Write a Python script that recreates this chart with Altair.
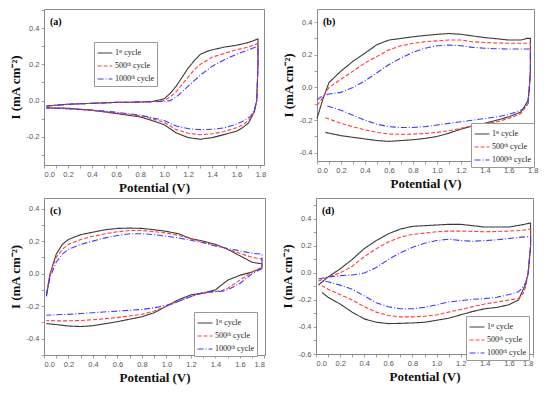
import altair as alt
import pandas as pd

SERIES = ["1ˢᵗ cycle", "500ᵗʰ cycle", "1000ᵗʰ cycle"]
COLORS = ["#3a3a3a", "#ff3b3b", "#3b3bff"]
DASHES = [[1, 0], [4, 2], [6, 2, 1, 2]]

# ---------------- panel (a) ----------------
A_UP_V = [0.02, 0.2, 0.4, 0.6, 0.8, 0.9, 1.0, 1.05, 1.1, 1.15, 1.2, 1.25, 1.3, 1.35, 1.4, 1.5, 1.6, 1.7, 1.78]
A1_UP = [-0.03, -0.02, -0.015, -0.01, -0.008, -0.005, 0.01, 0.04, 0.08, 0.13, 0.18, 0.22, 0.255, 0.27, 0.28, 0.295, 0.305, 0.32, 0.34]
A500_UP = [-0.03, -0.02, -0.015, -0.01, -0.008, -0.006, 0.0, 0.02, 0.05, 0.09, 0.13, 0.17, 0.2, 0.22, 0.24, 0.26, 0.28, 0.295, 0.315]
A1000_UP = [-0.03, -0.02, -0.015, -0.01, -0.008, -0.007, -0.004, 0.0, 0.02, 0.05, 0.08, 0.11, 0.14, 0.165, 0.19, 0.225, 0.255, 0.28, 0.3]
A_DN_V = [1.78, 1.77, 1.75, 1.72, 1.7, 1.65, 1.6, 1.5, 1.4, 1.3, 1.2, 1.1, 1.0, 0.9, 0.8, 0.6, 0.4, 0.2, 0.02]
A1_DN = [0.2, 0.0, -0.06, -0.1, -0.124, -0.15, -0.169, -0.187, -0.204, -0.213, -0.204, -0.178, -0.133, -0.11, -0.09, -0.071, -0.053, -0.042, -0.04]
A500_DN = [0.2, 0.0, -0.06, -0.095, -0.11, -0.135, -0.15, -0.17, -0.183, -0.188, -0.18, -0.16, -0.12, -0.1, -0.085, -0.068, -0.055, -0.045, -0.04]
A1000_DN = [0.2, 0.0, -0.05, -0.085, -0.095, -0.115, -0.13, -0.15, -0.158, -0.16, -0.155, -0.14, -0.11, -0.095, -0.08, -0.064, -0.052, -0.045, -0.04]

# ---------------- panel (b) ----------------
B_UP_V = [0.0, 0.05, 0.1, 0.2, 0.3, 0.4, 0.5, 0.6, 0.7, 0.8, 0.9, 1.0, 1.1, 1.2, 1.3, 1.4, 1.5, 1.6, 1.7, 1.75, 1.78]
B1_UP = [-0.19, -0.07, 0.03, 0.1, 0.16, 0.21, 0.262, 0.29, 0.3, 0.31, 0.318, 0.325, 0.33, 0.325, 0.315, 0.305, 0.298, 0.29, 0.29, 0.3, 0.3]
B500_UP = [-0.11, -0.06, 0.0, 0.05, 0.1, 0.15, 0.19, 0.23, 0.255, 0.27, 0.28, 0.285, 0.29, 0.29, 0.28, 0.275, 0.272, 0.27, 0.27, 0.27, 0.27]
B1000_UP = [-0.075, -0.05, -0.04, -0.03, 0.0, 0.04, 0.09, 0.14, 0.18, 0.215, 0.24, 0.255, 0.26, 0.255, 0.245, 0.24, 0.237, 0.235, 0.235, 0.235, 0.235]
B_DN_V = [1.78, 1.77, 1.76, 1.72, 1.7, 1.6, 1.5, 1.4, 1.3, 1.2, 1.1, 1.0, 0.9, 0.8, 0.7, 0.6, 0.5, 0.4, 0.3, 0.2, 0.07]
B1_DN = [0.1, -0.02, -0.08, -0.13, -0.15, -0.18, -0.2, -0.22, -0.235, -0.255, -0.28, -0.3, -0.312, -0.32, -0.325, -0.33, -0.325, -0.315, -0.305, -0.295, -0.275]
B500_DN = [0.1, -0.01, -0.1, -0.14, -0.16, -0.19, -0.21, -0.22, -0.235, -0.25, -0.265, -0.275, -0.282, -0.285, -0.287, -0.285, -0.275, -0.26, -0.24, -0.22, -0.185]
B1000_DN = [0.1, 0.0, -0.1, -0.13, -0.14, -0.165, -0.18, -0.19, -0.2, -0.21, -0.22, -0.23, -0.24, -0.245, -0.245, -0.24, -0.225, -0.2, -0.17, -0.14, -0.11]

# ---------------- panel (c) ----------------
C_UP_V = [0.02, 0.05, 0.1, 0.15, 0.2, 0.3, 0.4, 0.5, 0.6, 0.7, 0.8, 0.9, 1.0, 1.1, 1.2, 1.3, 1.4, 1.5, 1.6, 1.7, 1.78]
C1_UP = [-0.14, 0.0, 0.12, 0.18, 0.21, 0.24, 0.255, 0.27, 0.278, 0.28, 0.278, 0.27, 0.26, 0.245, 0.215, 0.2, 0.18, 0.15, 0.11, 0.07, 0.06]
C500_UP = [-0.12, 0.0, 0.1, 0.15, 0.18, 0.21, 0.23, 0.245, 0.258, 0.265, 0.265, 0.258, 0.25, 0.235, 0.215, 0.195, 0.175, 0.15, 0.125, 0.1, 0.09]
C1000_UP = [-0.13, -0.02, 0.07, 0.12, 0.15, 0.18, 0.2, 0.22, 0.235, 0.245, 0.245, 0.24, 0.23, 0.22, 0.205, 0.19, 0.17, 0.155, 0.14, 0.125, 0.12]
C_DN_V = [1.78, 1.7, 1.6, 1.5, 1.45, 1.4, 1.3, 1.2, 1.1, 1.0, 0.9, 0.8, 0.6, 0.4, 0.3, 0.2, 0.1, 0.02]
C1_DN = [0.035, 0.01, -0.01, -0.04, -0.07, -0.1, -0.12, -0.13, -0.16, -0.2, -0.24, -0.265, -0.295, -0.32, -0.325, -0.322, -0.313, -0.307]
C500_DN = [0.04, 0.01, -0.04, -0.09, -0.105, -0.11, -0.12, -0.14, -0.17, -0.2, -0.23, -0.25, -0.27, -0.283, -0.288, -0.29, -0.29, -0.288]
C1000_DN = [0.03, 0.0, -0.06, -0.1, -0.108, -0.11, -0.115, -0.14, -0.17, -0.195, -0.21, -0.22, -0.23, -0.24, -0.245, -0.25, -0.253, -0.256]

# ---------------- panel (d) ----------------
D_UP_V = [0.02, 0.1, 0.2, 0.3, 0.4, 0.5, 0.6, 0.7, 0.8, 0.9, 1.0, 1.1, 1.2, 1.3, 1.4, 1.5, 1.6, 1.7, 1.78]
D1_UP = [-0.09, -0.03, 0.03, 0.1, 0.18, 0.24, 0.29, 0.325, 0.345, 0.35, 0.355, 0.36, 0.36, 0.35, 0.34, 0.34, 0.34, 0.355, 0.37]
D500_UP = [-0.06, -0.03, 0.0, 0.05, 0.12, 0.18, 0.23, 0.265, 0.285, 0.295, 0.305, 0.31, 0.31, 0.308, 0.305, 0.307, 0.31, 0.315, 0.325]
D1000_UP = [-0.045, -0.03, -0.02, -0.015, 0.0, 0.04, 0.1, 0.15, 0.19, 0.22, 0.24, 0.25, 0.24, 0.235, 0.24, 0.245, 0.255, 0.265, 0.27]
D_DN_V = [1.78, 1.76, 1.74, 1.72, 1.68, 1.6, 1.5, 1.4, 1.3, 1.2, 1.1, 1.0, 0.9, 0.8, 0.7, 0.6, 0.5, 0.4, 0.3, 0.2, 0.1, 0.05]
D1_DN = [0.2, 0.0, -0.08, -0.12, -0.2, -0.235, -0.255, -0.265, -0.285, -0.31, -0.335, -0.35, -0.365, -0.37, -0.373, -0.375, -0.365, -0.34, -0.29, -0.23, -0.18, -0.145]
D500_DN = [0.2, 0.0, -0.1, -0.15, -0.19, -0.2, -0.215, -0.23, -0.25, -0.27, -0.29, -0.31, -0.32, -0.325, -0.325, -0.315, -0.29, -0.25, -0.2, -0.16, -0.12, -0.095]
D1000_DN = [0.2, 0.0, -0.07, -0.1, -0.14, -0.16, -0.18, -0.19, -0.195, -0.205, -0.215, -0.235, -0.255, -0.265, -0.265, -0.25, -0.22, -0.17, -0.12, -0.09, -0.065, -0.06]

SERIF = "Liberation Serif"
SANS = "Liberation Sans"
LABEL_EXPR = "round(datum.value*10) % 2 == 0 ? replace(format(datum.value, '.1f'), '\u2212', '-') : ''"


def panel_df(up_v, dn_v, ups, dns):
    rows = []
    for s, up, dn in zip(SERIES, ups, dns):
        k = 0
        for v, i in zip(up_v, up):
            rows.append({"series": s, "V": v, "I": i, "k": k})
            k += 1
        for v, i in zip(dn_v, dn):
            rows.append({"series": s, "V": v, "I": i, "k": k})
            k += 1
    return pd.DataFrame(rows)


def ticks(lo, hi):
    n0 = int(round(lo * 10))
    n1 = int(round(hi * 10))
    return [round(n * 0.1, 1) for n in range(n0, n1 + 1)]


def panel(df, label, xdom, ydom, ytk, lx, ly, w, h):
    leg = alt.Legend(
        orient="none", legendX=lx, legendY=ly, title=None,
        strokeColor="#9a9a9a", fillColor="white", padding=3, rowPadding=1,
        symbolType="stroke", symbolSize=220, symbolStrokeWidth=1.1,
        labelFont=SERIF, labelFontSize=8, labelColor="#222", labelOffset=2,
    )
    lines = alt.Chart(df).mark_line(strokeWidth=1.1).encode(
        x=alt.X("V:Q", scale=alt.Scale(domain=xdom, nice=False, zero=False),
                axis=alt.Axis(values=ticks(0, 1.8), labelExpr=LABEL_EXPR, title="Potential (V)")),
        y=alt.Y("I:Q", scale=alt.Scale(domain=ydom, nice=False, zero=False),
                axis=alt.Axis(values=ytk, labelExpr=LABEL_EXPR, title="I (mA cm⁻²)")),
        color=alt.Color("series:N", scale=alt.Scale(domain=SERIES, range=COLORS), legend=leg),
        strokeDash=alt.StrokeDash("series:N", scale=alt.Scale(domain=SERIES, range=DASHES), legend=leg),
        order="k:Q",
    )
    txt = alt.Chart(pd.DataFrame({"t": [label]})).mark_text(
        align="left", baseline="top", font=SERIF, fontWeight="bold", fontSize=10
    ).encode(x=alt.value(6), y=alt.value(8), text="t:N")
    return alt.layer(lines, txt).properties(width=w, height=h)


pa = panel(panel_df(A_UP_V, A_DN_V, [A1_UP, A500_UP, A1000_UP], [A1_DN, A500_DN, A1000_DN]),
           "(a)", [0, 1.83], [-0.355, 0.505], ticks(-0.3, 0.5), 50, 33, 220, 156)
pb = panel(panel_df(B_UP_V, B_DN_V, [B1_UP, B500_UP, B1000_UP], [B1_DN, B500_DN, B1000_DN]),
           "(b)", [0, 1.81], [-0.45, 0.48], ticks(-0.4, 0.4), 154, 114, 217, 152)
pc = panel(panel_df(C_UP_V, C_DN_V, [C1_UP, C500_UP, C1000_UP], [C1_DN, C500_DN, C1000_DN]),
           "(c)", [0, 1.805], [-0.5, 0.465], ticks(-0.5, 0.4), 150, 114, 221, 157)
pd_ = panel(panel_df(D_UP_V, D_DN_V, [D1_UP, D500_UP, D1000_UP], [D1_DN, D500_DN, D1000_DN]),
            "(d)", [0, 1.8], [-0.6, 0.555], ticks(-0.6, 0.5), 150, 118, 217, 156)

top = alt.hconcat(pa, pb, spacing=14).resolve_legend(color="independent", strokeDash="independent").resolve_scale(color="independent", strokeDash="independent")
bot = alt.hconcat(pc, pd_, spacing=14).resolve_legend(color="independent", strokeDash="independent").resolve_scale(color="independent", strokeDash="independent")

chart = alt.vconcat(top, bot, spacing=2).resolve_legend(
    color="independent", strokeDash="independent"
).resolve_scale(color="independent", strokeDash="independent").properties(
    padding=0, background="white"
).configure_view(
    stroke="#8a8a8a", strokeWidth=1
).configure_axis(
    grid=False, domain=False, tickColor="#8a8a8a", tickSize=3, tickWidth=0.8,
    labelFont=SANS, labelFontSize=7.5, labelColor="#555", labelPadding=2,
    titleFont=SERIF, titleFontWeight="bold", titleFontSize=13, titleColor="#111",
).configure_axisY(titlePadding=4).configure_axisX(titlePadding=4)

chart.save("out.html", embed_options={"renderer": "svg", "actions": False})
